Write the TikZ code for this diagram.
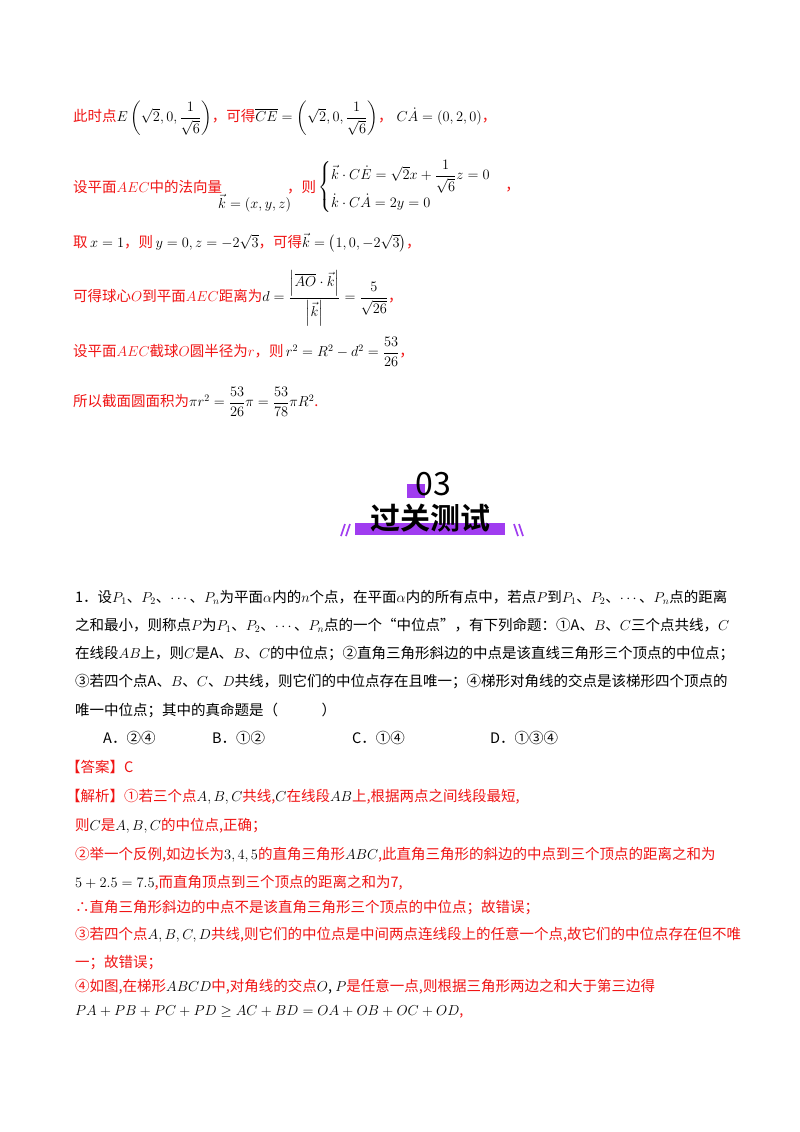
\documentclass[tikz,border=0pt]{standalone}
\usepackage{amsmath}
\usepackage{fontspec}
\setmainfont{Noto Sans CJK SC}
\newfontfamily\cjkb[BoldFont={* Bold}]{Noto Sans CJK SC}
\definecolor{hred}{RGB}{240,20,20}
\definecolor{hpur}{RGB}{160,60,240}
\newcommand\R[1]{\textcolor{hred}{#1}}
\tikzset{ln/.style={anchor=west,inner sep=0pt,font=\fontsize{14.5}{17}\selectfont}}
\begin{document}
\begin{tikzpicture}[x=1pt,y=-1pt]
\useasboundingbox[fill=white] (0,0) rectangle (800,1132);
% top section
\node[ln] (t1) at (73,118) {\R{此时点}$E\left(\sqrt2,0,\dfrac{1}{\sqrt6}\right)$\R{，可得}$\overline{CE}=\left(\sqrt2,0,\dfrac{1}{\sqrt6}\right)$\R{，}\;$C\dot{A}=(0,2,0)$\R{，}};
\node[ln] (t2a) at (73,187) {\R{设平面$AEC$中的法向量}};
\node[ln] (t2b) at (218,203) {$\vec k=(x,y,z)$};
\node[ln] (t2c) at (287,187) {\R{，则}};
\node[ln] (t2d) at (318,187) {$\begin{cases}\vec k\cdot C\dot E=\sqrt2x+\dfrac{1}{\sqrt6}z=0\\[2pt] \dot k\cdot C\dot A=2y=0\end{cases}$\R{，}};
\node[ln] (t3) at (73,243) {\R{取}$\,x=1$\R{，则}$\,y=0,z=-2\sqrt3$\R{，可得}$\vec k=\left(1,0,-2\sqrt3\right)$\R{，}};
\node[ln] (t4) at (73,298) {\R{可得球心$O$到平面$AEC$距离为}$d=\dfrac{\left|\overline{AO}\cdot\vec k\right|}{\left|\vec k\right|}=\dfrac{5}{\sqrt{26}}$\R{，}};
\node[ln] (t5) at (73,352) {\R{设平面$AEC$截球$O$圆半径为$r$，则}$\,r^2=R^2-d^2=\dfrac{53}{26}$\R{，}};
\node[ln] (t6) at (73,402) {\R{所以截面圆面积为}$\pi r^2=\dfrac{53}{26}\pi=\dfrac{53}{78}\pi R^2$\R{.}};
% header
\fill[hpur] (407,484) rectangle (425,498);
\node[inner sep=0pt,font=\fontsize{32}{34}\selectfont] (h03) at (433,484) {03};
\fill[hpur] (355,523) rectangle (505,535);
\node[inner sep=0pt,font=\cjkb\bfseries\fontsize{30}{32}\selectfont] (hti) at (430,518) {过关测试};
\draw[hpur,line width=1.6pt] (341,536)--(345,524) (346,536)--(350,524) (514,524)--(518,536) (519,524)--(523,536);
% question
\node[ln] (q1) at (75,597) {1．设$P_1$、$P_2$、$\cdots$、$P_n$为平面$\alpha$内的$n$个点，在平面$\alpha$内的所有点中，若点$P$到$P_1$、$P_2$、$\cdots$、$P_n$点的距离};
\node[ln] (q2) at (75,625) {之和最小，则称点$P$为$P_1$、$P_2$、$\cdots$、$P_n$点的一个“中位点”，有下列命题：①A、$B$、$C$三个点共线，$C$};
\node[ln] (q3) at (75,654) {在线段$AB$上，则$C$是A、$B$、$C$的中位点；②直角三角形斜边的中点是该直线三角形三个顶点的中位点；};
\node[ln] (q4) at (75,682) {③若四个点A、$B$、$C$、$D$共线，则它们的中位点存在且唯一；④梯形对角线的交点是该梯形四个顶点的};
\node[ln] (q5) at (75,710) {唯一中位点；其中的真命题是（\qquad\quad）};
\node[ln] (oA) at (103,738) {A．②④};
\node[ln] (oB) at (212,738) {B．①②};
\node[ln] (oC) at (352,738) {C．①④};
\node[ln] (oD) at (490,738) {D．①③④};
\node[ln] (ans) at (66,767) {\R{【答案】C}};
\node[ln] (s1) at (66,797) {\R{【解析】①若三个点}$A,B,C$\R{共线,}$C$\R{在线段}$AB$\R{上,根据两点之间线段最短,}};
\node[ln] (s2) at (75,826) {\R{则}$C$\R{是}$A,B,C$\R{的中位点,正确；}};
\node[ln] (s3) at (75,855) {\R{②举一个反例,如边长为}$3,4,5$\R{的直角三角形}$ABC$\R{,此直角三角形的斜边的中点到三个顶点的距离之和为}};
\node[ln] (s4) at (75,883) {$5+2.5=7.5$\R{,而直角顶点到三个顶点的距离之和为7,}};
\node[ln] (s5) at (75,908) {\R{∴直角三角形斜边的中点不是该直角三角形三个顶点的中位点；故错误；}};
\node[ln] (s6) at (75,935) {\R{③若四个点}$A,B,C,D$\R{共线,则它们的中位点是中间两点连线段上的任意一个点,故它们的中位点存在但不唯}};
\node[ln] (s7) at (75,963) {\R{一；故错误；}};
\node[ln] (s8) at (75,987) {\R{④如图,在梯形}$ABCD$\R{中,对角线的交点}$O$, $P$\R{是任意一点,则根据三角形两边之和大于第三边得}};
\node[ln] (s9) at (75,1012) {$PA+PB+PC+PD\geq AC+BD=OA+OB+OC+OD$\R{,}};
\end{tikzpicture}
\end{document}
